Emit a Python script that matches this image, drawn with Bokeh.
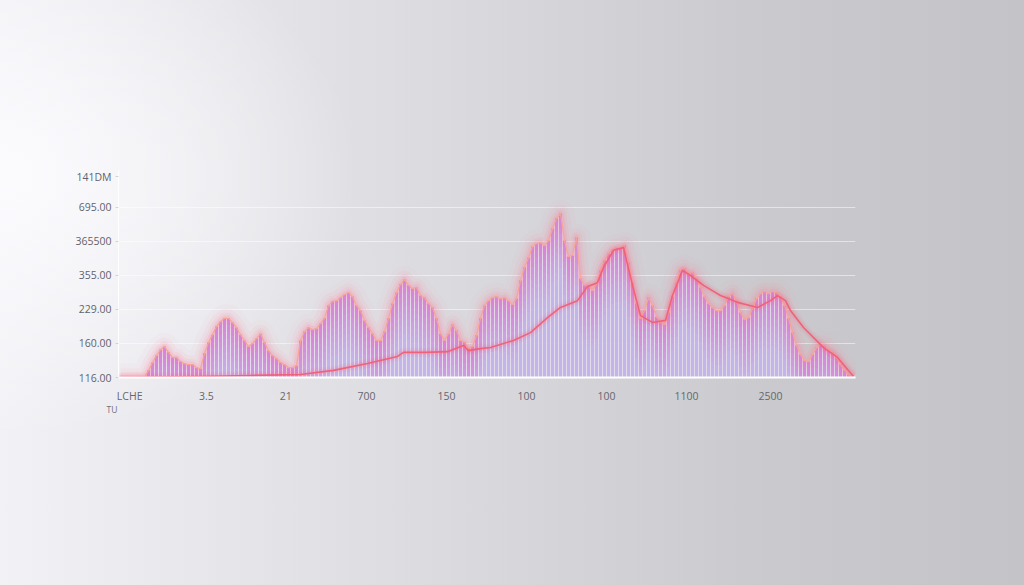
import numpy as np
from bokeh.plotting import figure
from bokeh.models import FixedTicker, Range1d, Title, GlobalInlineStyleSheet, ColumnDataSource
from bokeh.embed import file_html
from bokeh.resources import INLINE

# ---------------- data ----------------
bar_values = [
    0, 0, 0, 0, 0, 0, 0, 0.21, 0.44, 0.65,
    0.82, 0.91, 0.74, 0.59, 0.59, 0.47, 0.41, 0.38, 0.38, 0.29,
    0.26, 0.71, 1.03, 1.26, 1.50, 1.65, 1.74, 1.74, 1.62, 1.47,
    1.26, 1.09, 0.91, 1.00, 1.15, 1.29, 1.03, 0.79, 0.65, 0.56,
    0.44, 0.38, 0.29, 0.29, 0.35, 1.09, 1.35, 1.47, 1.41, 1.44,
    1.59, 1.74, 2.12, 2.24, 2.26, 2.35, 2.44, 2.50, 2.38, 2.12,
    1.97, 1.68, 1.47, 1.29, 1.09, 1.09, 1.35, 1.74, 2.18, 2.50,
    2.74, 2.88, 2.71, 2.62, 2.65, 2.41, 2.35, 2.18, 2.06, 1.74,
    1.29, 1.09, 1.29, 1.56, 1.38, 1.09, 1.03, 0.85, 0.91, 1.24,
    1.74, 2.12, 2.26, 2.35, 2.38, 2.32, 2.35, 2.26, 2.15, 2.32,
    2.85, 3.24, 3.53, 3.85, 3.94, 3.97, 3.88, 4.03, 4.38, 4.68,
    4.82, 4.03, 3.56, 3.59, 4.12, 2.91, 2.71, 2.71, 2.56, 2.74,
    3.15, 3.44, 3.65, 3.76, 3.82, 3.82, 3.88, 3.38, 2.79, 2.18,
    1.74, 1.97, 2.35, 2.12, 1.79, 1.62, 1.56, 1.91, 2.38, 2.79,
    3.15, 3.21, 3.06, 3.09, 2.91, 2.65, 2.38, 2.18, 2.06, 1.97,
    1.97, 2.12, 2.38, 2.47, 2.26, 1.91, 1.71, 1.76, 2.03, 2.32,
    2.47, 2.53, 2.47, 2.53, 2.50, 2.38, 2.12, 1.74, 1.32, 0.94,
    0.68, 0.50, 0.47, 0.68, 0.88, 0.97, 0.94, 0.82, 0.74, 0.59,
    0.38, 0.21, 0.09, 0,
]

trend_x = [-0.5, 20, 32.5, 45, 53.25, 61.75, 69.25, 70.75, 76.25, 81.75,
           85.75, 87, 90, 92.5, 98.25, 102.5, 106.75, 110, 114.25, 116.75,
           119.25, 120.75, 123.25, 125.75, 128, 130, 133, 136.25, 138, 140.5,
           142.5, 145.75, 150, 154.25, 159.25, 162.5, 164.25, 166.25, 167.5, 170.75,
           175.75, 179.25, 183.25]
trend_y = [0, 0.03, 0.06, 0.09, 0.21, 0.41, 0.62, 0.74, 0.74, 0.76,
           0.94, 0.79, 0.85, 0.88, 1.09, 1.32, 1.76, 2.06, 2.26, 2.68,
           2.79, 3.24, 3.74, 3.82, 2.71, 1.82, 1.62, 1.68, 2.41, 3.15,
           3.00, 2.71, 2.41, 2.21, 2.06, 2.26, 2.41, 2.26, 1.97, 1.47,
           0.88, 0.59, 0.03]

y_tick_pos = [0, 1, 2, 3, 4, 5, 5.9]
y_tick_labels = ["116.00", "160.00", "229.00", "355.00", "365500", "695.00", "141DM"]
x_tick_pos = [2.3, 21.5, 41.3, 61.5, 81.5, 101.5, 121.5, 141.5, 162.5]
x_tick_labels = ["LCHE", "3.5", "21", "700", "150", "100", "100", "1100", "2500"]
corner_label = "TU"

# ---------------- figure ----------------
W, H = 1024, 585
bg = ("radial-gradient(ellipse 35% 45% at 0% 30%, rgba(252,252,255,0.95), rgba(252,252,255,0) 100%), "
      "linear-gradient(90deg, #f2f2f6 0%, #e3e3e7 28%, #d6d6da 52%, #cacace 75%, #c4c4c8 100%)")
glob = GlobalInlineStyleSheet(css="html, body { background: " + bg + "; overflow: hidden; }")

p = figure(width=W, height=H, output_backend="svg", toolbar_location=None,
           x_range=Range1d(-0.5, 183.75), y_range=Range1d(0, 6.088),
           min_border_left=118, min_border_right=169, min_border_top=170, min_border_bottom=208,
           styles={"background": bg}, stylesheets=[glob])
p.background_fill_alpha = 0
p.border_fill_alpha = 0
p.outline_line_color = None

vals = np.array(bar_values, dtype=float)
xs = np.arange(len(vals), dtype=float)

# soft fill under the envelope (shows in the gaps)
p.varea(x=xs, y1=np.zeros_like(vals), y2=vals, fill_color="#e6dcf0", fill_alpha=0.8)

# glow along the envelope
for w, a in [(28, 0.04), (18, 0.07), (11, 0.10), (6, 0.16)]:
    p.line(xs, vals, line_color="#ff7fa0", line_width=w, line_alpha=a, line_join="round")

# bars with a vertical colour gradient (pink near the top, lavender lower down)
pink = np.array([216, 130, 212])
lav = np.array([194, 182, 232])
seg = []
step = 0.2
for i, v in enumerate(vals):
    if v <= 0:
        continue
    t = v
    while t > 0:
        mid = t - step / 2
        f = min(max((v - mid) / 1.8, 0), 1)
        c = pink * (1 - f) + lav * f
        seg.append((t, i, "#%02x%02x%02x" % tuple(int(round(k)) for k in c)))
        t -= step
seg.sort(key=lambda s: -s[0])
src = ColumnDataSource(dict(x=[s[1] for s in seg], top=[s[0] for s in seg], color=[s[2] for s in seg]))
p.vbar(x="x", top="top", bottom=0, width=0.74, fill_color="color", line_color=None, source=src)

# envelope core line
p.line(xs, vals, line_color="#f6a494", line_width=1.3, line_alpha=0.95, line_join="round")

# trend line
for w, a in [(9, 0.07), (5, 0.13)]:
    p.line(trend_x, trend_y, line_color="#ff5a7a", line_width=w, line_alpha=a, line_join="round")
p.line(trend_x, trend_y, line_color="#ef5f76", line_width=1.6, line_alpha=0.95, line_join="round")

# axes
font = "Open Sans"
p.yaxis.ticker = FixedTicker(ticks=y_tick_pos)
p.yaxis.major_label_overrides = {t: l for t, l in zip(y_tick_pos, y_tick_labels)}
p.yaxis.major_label_text_font = font
p.yaxis.major_label_text_font_size = "10.5px"
p.yaxis.major_label_text_color = "#62626a"
p.yaxis.axis_line_color = "white"
p.yaxis.axis_line_alpha = 0.9
p.yaxis.major_tick_line_color = "#d4d4d8"
p.yaxis.major_tick_out = 3
p.yaxis.major_tick_in = 0
p.yaxis.minor_tick_line_color = None
p.yaxis.major_label_standoff = 4

p.xaxis.ticker = FixedTicker(ticks=x_tick_pos)
p.xaxis.major_label_overrides = {t: l for t, l in zip(x_tick_pos, x_tick_labels)}
p.xaxis.major_label_text_font = font
p.xaxis.major_label_text_font_size = "10.5px"
p.xaxis.major_label_text_color = "#66666d"
p.xaxis.axis_line_color = "white"
p.xaxis.axis_line_width = 2
p.xaxis.major_tick_line_color = None
p.xaxis.minor_tick_line_color = None
p.xaxis.major_label_standoff = 5

p.xgrid.grid_line_color = None
p.ygrid.ticker = FixedTicker(ticks=[1, 2, 3, 4, 5])
p.ygrid.grid_line_color = "white"
p.ygrid.grid_line_alpha = 0.5
p.ygrid.grid_line_width = 1

p.add_layout(Title(text=corner_label, align="left", offset=-12, standoff=-18,
                   text_font=font, text_font_size="8.5px", text_font_style="normal",
                   text_color="#707077"), "below")

open("out.html", "w").write(file_html(p, INLINE))
